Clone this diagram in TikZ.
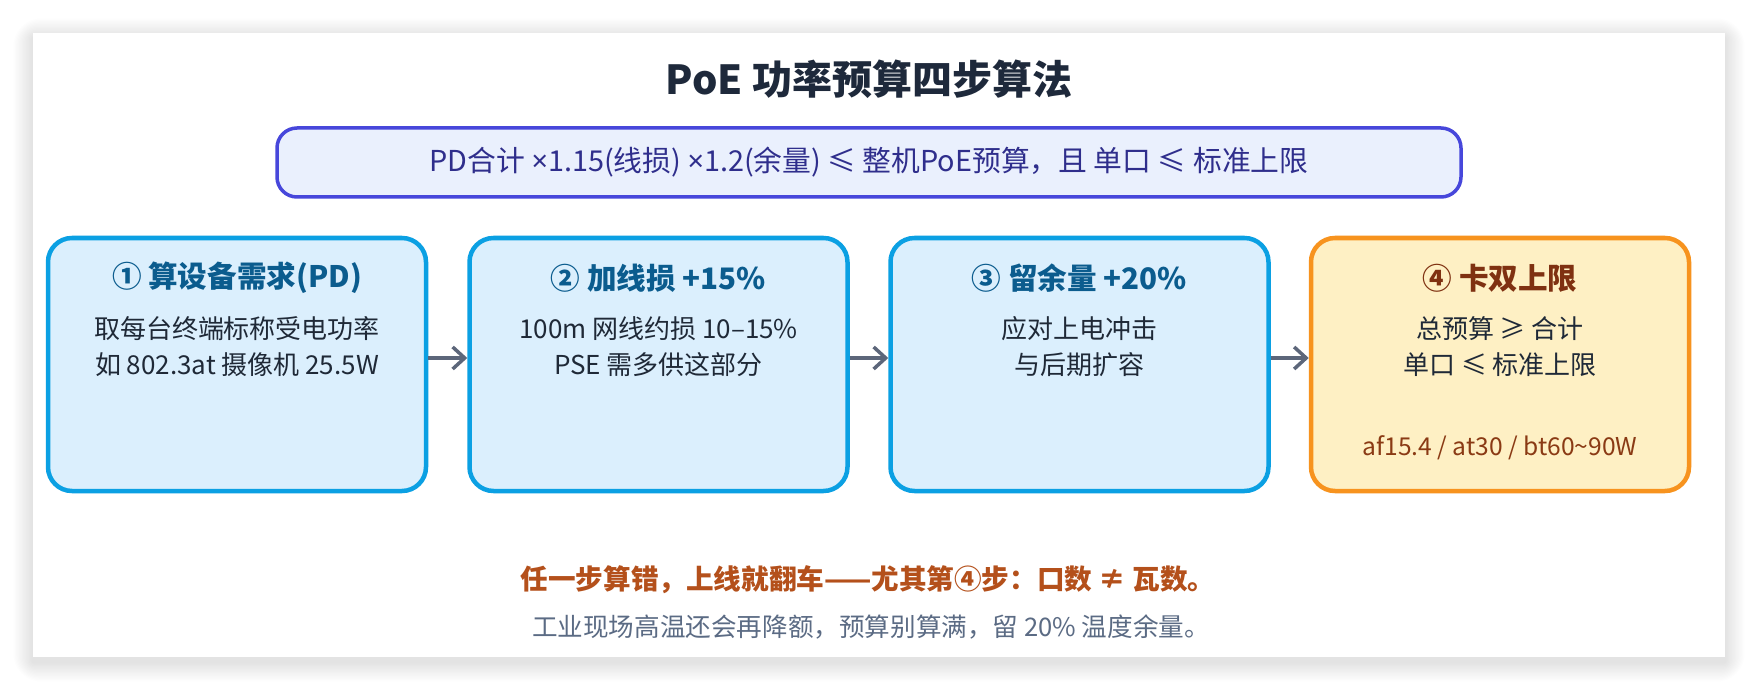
\documentclass[tikz,border=0pt]{standalone}
\usepackage{fontspec}
\setmainfont{Noto Sans CJK SC}
\newfontfamily\latf{Noto Sans}
\usetikzlibrary{arrows.meta}
\definecolor{bstroke}{HTML}{0BA0E3}
\definecolor{bfill}{HTML}{DBEFFD}
\definecolor{btitle}{HTML}{0B5C8E}
\definecolor{btext}{HTML}{1F2937}
\definecolor{ostroke}{HTML}{F7931E}
\definecolor{ofill}{HTML}{FEF0C4}
\definecolor{otitle}{HTML}{7F3111}
\definecolor{otext}{HTML}{8A3A14}
\definecolor{fstroke}{HTML}{4747DB}
\definecolor{ffill}{HTML}{EAF0FD}
\definecolor{ftext}{HTML}{2F2E8C}
\definecolor{arrowc}{HTML}{5C667A}
\definecolor{warnc}{HTML}{B4501B}
\definecolor{notec}{HTML}{5B6B84}
\definecolor{titlec}{HTML}{1E293B}
\newcommand{\tms}{{\latf ×}}
\begin{document}
\begin{tikzpicture}[x=0.5pt,y=-0.5pt,
  stepbox/.style={draw=bstroke, fill=bfill, line width=2.25pt, rounded corners=12pt,
    minimum width=189pt, minimum height=126.5pt, inner sep=0pt},
  limbox/.style={stepbox, draw=ostroke, fill=ofill},
  steptitle/.style={font=\fontsize{14.8pt}{17pt}\selectfont\bfseries, text=btitle, inner sep=0pt},
  stepbody/.style={font=\fontsize{13pt}{18pt}\selectfont, text=btext, align=center, inner sep=0pt},
  flow/.style={draw=arrowc, line width=1.75pt, -{Straight Barb[length=6pt,width=11pt]}}
]
\useasboundingbox (0,0) rectangle (1758,690);
\fill[white] (0,0) rectangle (1758,690);
% soft shadow
\foreach \i in {1,...,14}{
  \fill[black, opacity=0.007, rounded corners=\i] (33-1.4*\i,33-1.4*\i+5) rectangle (1725+1.4*\i,657+1.4*\i+5);
}
\fill[white] (33,33) rectangle (1725,657);

% title
\node[font=\fontsize{20pt}{24pt}\selectfont\bfseries, text=titlec, inner sep=0pt] (title) at (869,79) {PoE 功率预算四步算法};

% formula
\node[draw=fstroke, fill=ffill, line width=1.75pt, rounded corners=10pt,
  minimum width=592pt, minimum height=34.5pt, inner sep=0pt,
  font=\fontsize{14.4pt}{16pt}\selectfont, text=ftext] (formula) at (869,162.5)
  {PD合计 \tms1.15(线损) \tms1.2(余量) ≤ 整机PoE预算，且 单口 ≤ 标准上限};

% boxes
\node[stepbox] (b1) at (237,364.5) {};
\node[stepbox] (b2) at (658.5,364.5) {};
\node[stepbox] (b3) at (1079.5,364.5) {};
\node[limbox] (b4) at (1500,364.5) {};

\node[steptitle] (t1) at (237,278) {① 算设备需求(PD)};
\node[stepbody] (d1) at (237,347) {取每台终端标称受电功率\\如 802.3at 摄像机 25.5W};

\node[steptitle] (t2) at (658.5,278) {② 加线损 +15\%};
\node[stepbody] (d2) at (658.5,347) {100m 网线约损 10–15\%\\PSE 需多供这部分};

\node[steptitle] (t3) at (1079.5,278) {③ 留余量 +20\%};
\node[stepbody] (d3) at (1079.5,347) {应对上电冲击\\与后期扩容};

\node[steptitle, text=otitle] (t4) at (1500,278) {④ 卡双上限};
\node[stepbody] (d4) at (1500,347) {总预算 ≥ 合计\\单口 ≤ 标准上限};
\node[font=\fontsize{12.3pt}{14pt}\selectfont, text=otext, inner sep=0pt] (n4) at (1500,448) {af15.4 / at30 / bt60\textasciitilde 90W};

% arrows
\coordinate (ay) at (0,358);
\draw[flow] (b1.east |- ay) -- (b2.west |- ay);
\draw[flow] (b2.east |- ay) -- (b3.west |- ay);
\draw[flow] (b3.east |- ay) -- (b4.west |- ay);

% bottom notes
\node[font=\fontsize{13.8pt}{16pt}\selectfont\bfseries, text=warnc, inner sep=0pt] (warn) at (868,580)
  {任一步算错，上线就翻车——尤其第④步：口数 ≠ 瓦数。};
\node[font=\fontsize{12.8pt}{15pt}\selectfont, text=notec, inner sep=0pt] (note) at (871,627)
  {工业现场高温还会再降额，预算别算满，留 20\% 温度余量。};
\end{tikzpicture}
\end{document}
